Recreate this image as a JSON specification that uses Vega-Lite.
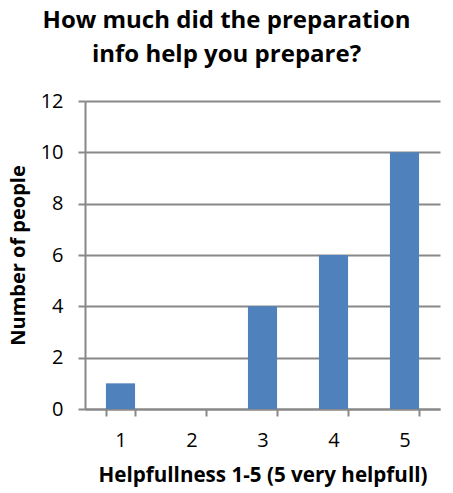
{
  "$schema": "https://vega.github.io/schema/vega-lite/v6.json",
  "autosize": "none",
  "width": 355,
  "height": 308,
  "padding": {"left": 85, "top": 101, "right": 13, "bottom": 84},
  "background": "white",
  "title": {
    "text": ["How much did the preparation", "info help you prepare?"],
    "font": "Open Sans",
    "fontSize": 24,
    "fontWeight": "bold",
    "color": "#000000",
    "anchor": "middle",
    "frame": "group",
    "dx": -36,
    "offset": 24,
    "lineHeight": 34
  },
  "data": {
    "values": [
      {"rating": "1", "count": 1},
      {"rating": "2", "count": 0},
      {"rating": "3", "count": 4},
      {"rating": "4", "count": 6},
      {"rating": "5", "count": 10}
    ]
  },
  "mark": {"type": "bar", "color": "#4F81BD"},
  "encoding": {
    "x": {
      "field": "rating",
      "type": "ordinal",
      "sort": ["1", "2", "3", "4", "5"],
      "scale": {"paddingInner": 0.59, "paddingOuter": 0.295},
      "axis": {
        "title": "Helpfullness 1-5 (5 very helpfull)",
        "labelAngle": 0,
        "labelFont": "Open Sans",
        "labelFontSize": 20,
        "labelColor": "#000000",
        "labelPadding": 14,
        "titleFont": "Open Sans",
        "titleFontSize": 20.6,
        "titleFontWeight": "bold",
        "titleColor": "#000000",
        "titlePadding": 15,
        "domainColor": "#888888",
        "domainWidth": 2,
        "tickColor": "#888888",
        "tickWidth": 2,
        "tickSize": 7,
        "tickBand": "extent",
        "grid": false
      }
    },
    "y": {
      "field": "count",
      "type": "quantitative",
      "scale": {"domain": [0, 12]},
      "axis": {
        "title": "Number of people",
        "values": [0, 2, 4, 6, 8, 10, 12],
        "labelFont": "Open Sans",
        "labelFontSize": 20,
        "labelColor": "#000000",
        "labelPadding": 15,
        "titleFont": "Open Sans",
        "titleFontSize": 20,
        "titleFontWeight": "bold",
        "titleColor": "#000000",
        "titlePadding": 12,
        "domainColor": "#888888",
        "domainWidth": 2,
        "tickColor": "#888888",
        "tickWidth": 2,
        "tickSize": 7,
        "grid": true,
        "gridColor": "#888888",
        "gridWidth": 2
      }
    }
  },
  "config": {"view": {"stroke": null}}
}
